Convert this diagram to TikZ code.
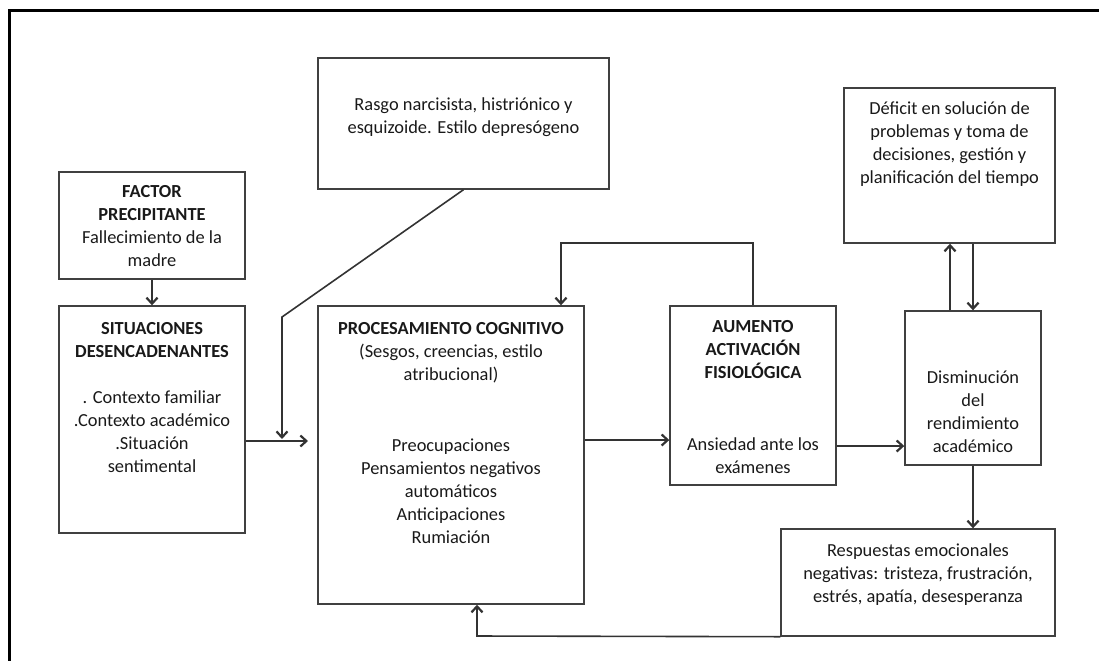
\documentclass[tikz,border=0pt]{standalone}
\usepackage{fontspec}
\setmainfont{Carlito}
\usetikzlibrary{arrows.meta}
\tikzset{
  caja/.style={draw=black!75, line width=0.7pt, inner sep=0pt},
  texto/.style={anchor=north, align=center, inner sep=0pt, text=black!90,
    font=\fontsize{9.2}{11.5}\selectfont},
  flecha/.style={draw=black!80, line width=0.8pt,
    -{Straight Barb[length=3pt,width=5.5pt,line width=1.1pt]}}
}

\begin{document}
\begin{tikzpicture}[x=0.5pt,y=-0.5pt]
\useasboundingbox (0,0) rectangle (1099,661);
% outer frame, only the top and left edges are inside the picture
\draw[line width=1.5pt] (1099,10) -- (9,10) -- (9,661);

% This first bit is just the boxes
\node[caja, minimum width=93pt, minimum height=53.5pt] (factor) at (152,225.5) {};
\node[caja, minimum width=145.5pt, minimum height=65.5pt] (rasgo) at (463.5,123.5) {};
\node[caja, minimum width=93pt, minimum height=113.5pt] (sit) at (152,419.5) {};
\node[caja, minimum width=133pt, minimum height=149pt] (proc) at (451,455) {};
\node[caja, minimum width=83pt, minimum height=89.5pt] (aum) at (753,395.5) {};
\node[caja, minimum width=68pt, minimum height=77pt] (dism) at (973,388) {};
\node[caja, minimum width=105.5pt, minimum height=77.5pt] (deficit) at (949.5,165.5) {};
\node[caja, minimum width=137pt, minimum height=53.5pt] (resp) at (918,582.5) {};

% Then the texts, hung from the top of each box
\node[texto] (tfactor) at (152,185) {\textbf{FACTOR}\\\textbf{PRECIPITANTE}\\Fallecimiento de la\\madre};
\node[texto] (trasgo) at (463.5,97.5) {Rasgo narcisista, histriónico y\\esquizoide. Estilo depresógeno};
\node[texto] (tsit) at (152,322) {\textbf{SITUACIONES}\\\textbf{DESENCADENANTES}\\[11.5pt]. Contexto familiar\\.Contexto académico\\.Situación\\sentimental};
\node[texto] (tproc) at (451,322) {\textbf{PROCESAMIENTO COGNITIVO}\\(Sesgos, creencias, estilo\\atribucional)\\[24pt]Preocupaciones\\Pensamientos negativos\\automáticos\\Anticipaciones\\Rumiación};
\node[texto] (taum) at (753,320) {\textbf{AUMENTO}\\\textbf{ACTIVACIÓN}\\\textbf{FISIOLÓGICA}\\[24.5pt]Ansiedad ante los\\exámenes};
\node[texto] (tdism) at (973,370) {Disminución\\del\\rendimiento\\académico};
\node[texto] (tdeficit) at (949.5,101.5) {Déficit en solución de\\problemas y toma de\\decisiones, gestión y\\planificación del tiempo};
\node[texto] (tresp) at (918,543) {Respuestas emocionales\\negativas: tristeza, frustración,\\estrés, apatía, desesperanza};

% Connectors
\draw[flecha] (factor) -- (sit);
\coordinate (codo) at (282,317);
\coordinate (llegada) at (282,439);
\draw[flecha] (rasgo.south) -- (codo) -- (llegada);
\coordinate (entrada) at (308,441);
\draw[flecha] (sit.east |- entrada) -- (entrada);
\coordinate (a1) at (0,440);
\draw[flecha] (proc.east |- a1) -- (aum.west |- a1);
\coordinate (a2) at (0,446);
\draw[flecha] (aum.east |- a2) -- (dism.west |- a2);
\draw[flecha] (dism.south) -- (dism.south |- resp.north);
\coordinate (sube) at (950,0);
\coordinate (baja) at (973,0);
\draw[flecha] (dism.north -| sube) -- (deficit.south -| sube);
\draw[flecha] (deficit.south -| baja) -- (dism.north -| baja);
% feedback loops
\coordinate (lazo) at (561,243);
\draw[flecha] (aum.north) |- (lazo) -- (proc.north -| lazo);
\coordinate (retorno) at (477,636);
\draw[flecha] (resp.south west) -- (retorno) -- (proc.south -| retorno);
\end{tikzpicture}
\end{document}
